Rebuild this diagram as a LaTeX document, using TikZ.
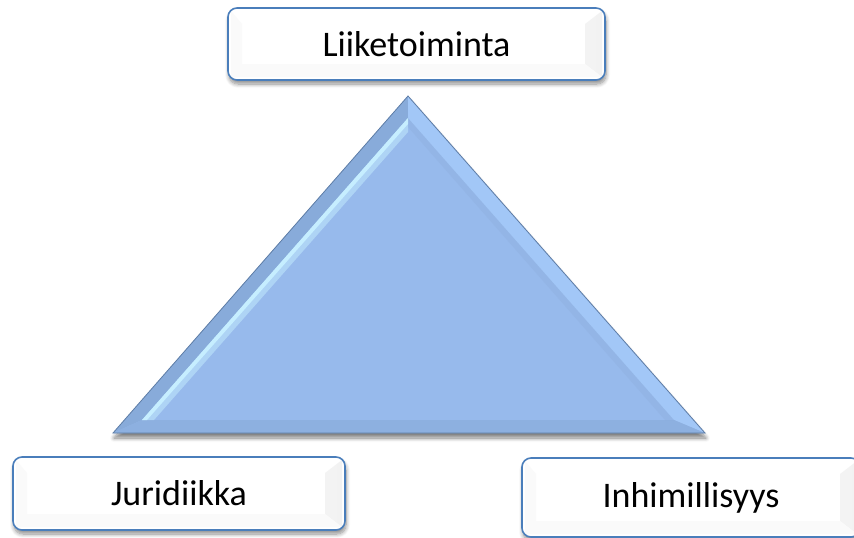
\documentclass[tikz,border=0pt]{standalone}
\usepackage{fontspec}
\setmainfont{Carlito}
\usetikzlibrary{shadows.blur}

\definecolor{boxblue}{HTML}{4A7EBB}
\definecolor{triface}{HTML}{97BAEC}
\definecolor{trileft}{HTML}{88ABDA}
\definecolor{trilight}{HTML}{C6EEFF}
\definecolor{triright}{HTML}{A2C7F7}
\definecolor{tribase}{HTML}{8DB0E0}
\definecolor{triedge}{HTML}{5E7DA6}

\tikzset{
  labelbox/.style={
    draw=boxblue, line width=1.6pt, rounded corners=9pt, fill=white,
    inner sep=0pt, text=black, font=\fontsize{36}{40}\selectfont,
    blur shadow={shadow xshift=1pt, shadow yshift=-4pt, shadow blur steps=8,
                 shadow blur radius=4pt, shadow opacity=45},
    path picture={
      \fill[sharp corners, left color=gray!2, right color=gray!10]
        ([xshift=-3pt,yshift=-3pt]path picture bounding box.north east)
        -- ([xshift=-20pt,yshift=-16pt]path picture bounding box.north east)
        -- ([xshift=-20pt,yshift=16pt]path picture bounding box.south east)
        -- ([xshift=-3pt,yshift=3pt]path picture bounding box.south east) -- cycle;
      \fill[sharp corners, gray!4]
        ([xshift=3pt,yshift=-3pt]path picture bounding box.north west)
        -- ([xshift=14pt,yshift=-16pt]path picture bounding box.north west)
        -- ([xshift=14pt,yshift=16pt]path picture bounding box.south west)
        -- ([xshift=3pt,yshift=3pt]path picture bounding box.south west) -- cycle;
      \fill[sharp corners, gray!4]
        ([xshift=3pt,yshift=3pt]path picture bounding box.south west)
        -- ([xshift=14pt,yshift=16pt]path picture bounding box.south west)
        -- ([xshift=-20pt,yshift=16pt]path picture bounding box.south east)
        -- ([xshift=-3pt,yshift=3pt]path picture bounding box.south east) -- cycle;
    }
  },
  facet/.style={draw=none}
}

\begin{document}
\begin{tikzpicture}[x=1pt,y=-1pt]
  \useasboundingbox (0,0) rectangle (854,538);
  \clip (0,0) rectangle (854,538);

  % outer and inner corners of the bevelled triangle
  \coordinate (A) at (408,96);
  \coordinate (B) at (113,433);
  \coordinate (C) at (705,433);
  \coordinate (a) at (408,118);
  \coordinate (b) at (142,420);
  \coordinate (c) at (674,420);

  % triangle body with its shadow
  \fill[triface, blur shadow={shadow xshift=1pt, shadow yshift=-5pt,
        shadow blur steps=8, shadow blur radius=4pt, shadow opacity=50}]
    (A) -- (B) -- (C) -- cycle;
  % bevel facets
  \fill[facet, trileft] (A) -- (B) -- (b) -- (a) -- cycle;
  \fill[facet, triright] (A) -- (a) -- (c) -- (C) -- cycle;
  \fill[facet, tribase] (B) -- (C) -- (c) -- (b) -- cycle;
  % soft highlight along the inner left edge
  \fill[trilight, opacity=0.5] (a) -- (b) -- ([xshift=12pt]b) -- ([yshift=-14pt]a) -- cycle;
  \fill[trilight] (a) -- (b) -- ([xshift=5pt]b) -- ([yshift=-6pt]a) -- cycle;
  \fill[triface!92!black, opacity=0.3] (a) -- (c) -- ([xshift=-9pt]c) -- ([yshift=-9pt]a) -- cycle;
  \draw[triedge, line width=0.8pt, line join=miter] (A) -- (B) -- (C) -- cycle;

  % labels
  \node[labelbox, minimum width=377pt, minimum height=72pt] (liike) at (416.5,44) {Liiketoiminta};
  \node[labelbox, minimum width=332pt, minimum height=73pt] (juri) at (179,493.5) {Juridiikka};
  \node[labelbox, minimum width=338pt, minimum height=79pt] (inhi) at (691,497.5) {Inhimillisyys};
\end{tikzpicture}
\end{document}
